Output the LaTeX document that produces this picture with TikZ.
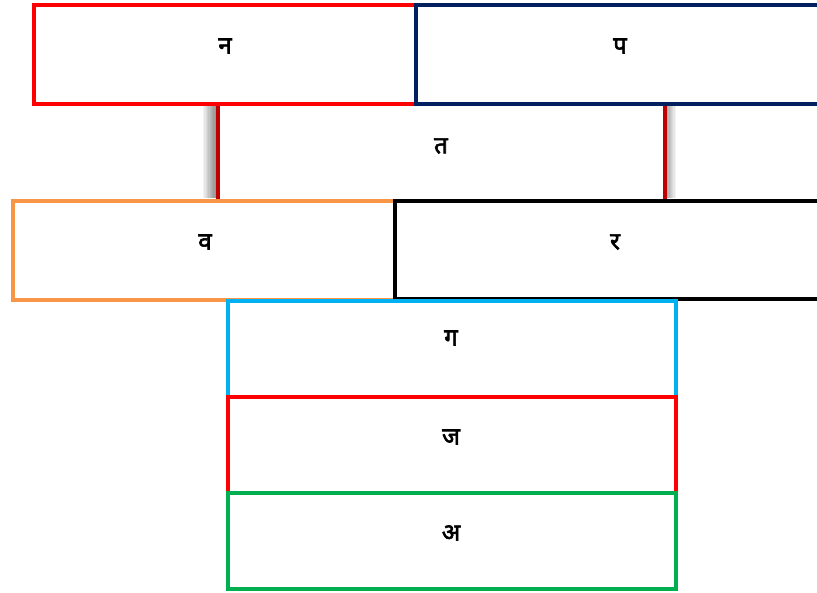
\documentclass[tikz,border=0pt]{standalone}
\usepackage{fontspec}
\newfontfamily\dev[Script=Devanagari,FakeBold=2.5]{Noto Sans}
\definecolor{cred}{HTML}{FF0000}
\definecolor{cnavy}{HTML}{002060}
\definecolor{cdred}{HTML}{C00000}
\definecolor{corange}{HTML}{F79646}
\definecolor{csky}{HTML}{00B0F0}
\definecolor{cgreen}{HTML}{00B050}
\begin{document}
\begin{tikzpicture}[x=1pt,y=-1pt,
  boxy/.style={draw=#1,line width=4pt,fill=white,anchor=north west,inner sep=0pt},
  lbl/.style={font=\dev\fontsize{24}{24}\selectfont,inner sep=0pt}]
\useasboundingbox (0,0) rectangle (817,593);
\clip (0,0) rectangle (817,593);
% middle shadowed box
\foreach \i in {1,...,10}{
  \fill[black,opacity=0.05] (216-\i*1.3,104) rectangle (216,198);
  \fill[black,opacity=0.05] (663,104) rectangle (663+\i*1.3,198);
}
\node[boxy=cdred,line width=3.5pt,minimum width=447pt,minimum height=97pt] (t) at (216,102) {};
% top row
\node[boxy=cred,minimum width=382pt,minimum height=99pt] (n) at (32,3) {};
\node[boxy=cnavy,minimum width=412pt,minimum height=99pt] (p) at (414,3) {};
% second row
\node[boxy=corange,minimum width=382pt,minimum height=99pt] (v) at (11,199) {};
\node[boxy=black,minimum width=440pt,minimum height=98pt] (r) at (393,199) {};
% stack
\node[boxy=csky,minimum width=448pt,minimum height=96pt] (g) at (226,299) {};
\node[boxy=cred,minimum width=448pt,minimum height=96pt] (j) at (226,395) {};
\node[boxy=cgreen,minimum width=448pt,minimum height=96pt] (a) at (226,491) {};
% labels
\node[lbl] (ln) at (225,46) {न};
\node[lbl] (lp) at (620,46) {प};
\node[lbl] (lt) at (441,146) {त};
\node[lbl] (lv) at (205,242) {व};
\node[lbl] (lr) at (615,242) {र};
\node[lbl] (lg) at (451,338) {ग};
\node[lbl] (lj) at (451,437) {ज};
\node[lbl] (la) at (451,533) {अ};
\end{tikzpicture}
\end{document}
